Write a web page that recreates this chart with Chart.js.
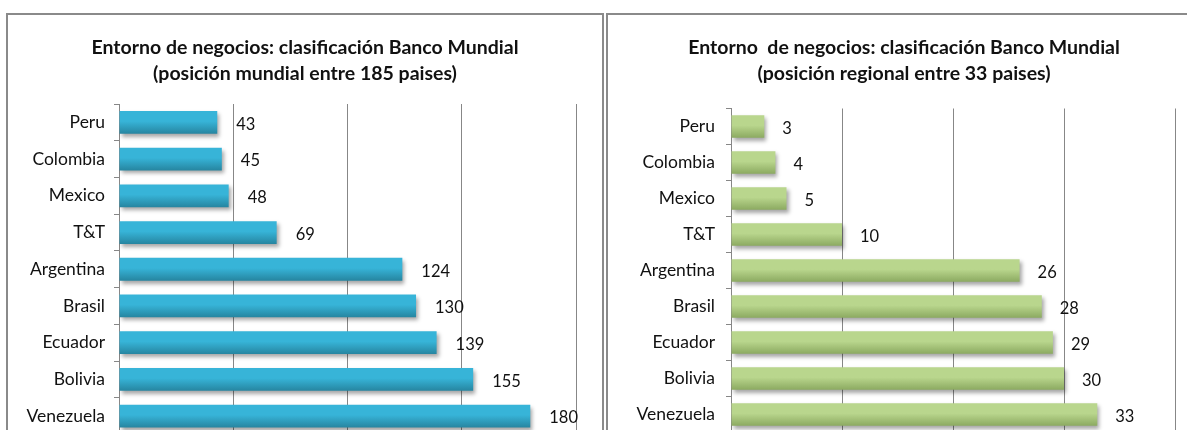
<!DOCTYPE html>
<html>
<head>
<meta charset="utf-8">
<script src="https://cdn.jsdelivr.net/npm/chart.js@4"></script>
<style>
  html, body { margin: 0; padding: 0; background: #fff; }
  body { width: 1187px; height: 430px; overflow: hidden; position: relative; }
  .panel { position: absolute; top: 13px; border: 2px solid #8a8a8a; height: 480px; }
  #p1 { left: 6px; width: 594px; }
  #p2 { left: 606px; width: 620px; }
  .wrap { position: absolute; top: 0; }
  #w1 { left: 0; width: 605px; height: 454px; }
  #w2 { left: 605px; width: 598px; height: 454px; }
</style>
</head>
<body>
<div class="panel" id="p1"></div>
<div class="panel" id="p2"></div>
<div class="wrap" id="w1"><canvas id="mundial"></canvas></div>
<div class="wrap" id="w2"><canvas id="regional"></canvas></div>
<script>
// datos
const paises = ['Peru', 'Colombia', 'Mexico', 'T&T', 'Argentina', 'Brasil', 'Ecuador', 'Bolivia', 'Venezuela'];
const posMundial = [43, 45, 48, 69, 124, 130, 139, 155, 180];
const posRegional = [3, 4, 5, 10, 26, 28, 29, 30, 33];
const tituloMundial = ['Entorno de negocios: clasificación Banco Mundial', '(posición mundial entre 185 paises)'];
const tituloRegional = ['Entorno  de negocios: clasificación Banco Mundial', '(posición regional entre 33 paises)'];
const ejeMundial = { max: 200, step: 50 };
const ejeRegional = { max: 40, step: 10 };

const FONT = 'Lato, "Open Sans", sans-serif';
const BAR_PCT = 0.62;

// degradado de cada barra
function gradiente(top, bottom) {
    return function (ctx) {
        const chart = ctx.chart;
        const y = chart.scales.y;
        if (!chart.chartArea || !y || ctx.dataIndex === undefined) return top;
        const c = y.getPixelForValue(ctx.dataIndex);
        const h = (y.height / chart.data.labels.length) * BAR_PCT;
        const g = chart.ctx.createLinearGradient(0, c - h / 2, 0, c + h / 2);
        g.addColorStop(0, top);
        g.addColorStop(0.45, top);
        g.addColorStop(1, bottom);
        return g;
    };
}

// sombra y etiquetas de valores
const sombra = {
    id: 'sombra',
    beforeDatasetsDraw(chart) {
        const ctx = chart.ctx;
        ctx.save();
        ctx.shadowColor = 'rgba(0,0,0,0.35)';
        ctx.shadowBlur = 4;
        ctx.shadowOffsetX = 2;
        ctx.shadowOffsetY = 3;
    },
    afterDatasetsDraw(chart, args, opts) {
        const ctx = chart.ctx;
        ctx.restore();
        ctx.save();
        ctx.font = '16.5px ' + FONT;
        ctx.fillStyle = '#111';
        ctx.textAlign = 'left';
        ctx.textBaseline = 'middle';
        const ds = chart.data.datasets[0];
        chart.getDatasetMeta(0).data.forEach((bar, i) => {
            ctx.fillText(String(ds.data[i]), bar.x + opts.offset, bar.y + 2);
        });
        ctx.restore();
    }
};

// titulo centrado en el recuadro (no en el area del grafico)
const titulo = {
    id: 'titulo',
    afterDraw(chart, args, opts) {
        const ctx = chart.ctx;
        ctx.save();
        ctx.font = 'bold 19.5px ' + FONT;
        ctx.fillStyle = '#111';
        ctx.textAlign = 'center';
        ctx.textBaseline = 'middle';
        opts.lineas.forEach((t, i) => ctx.fillText(t, opts.cx, opts.y + i * 26));
        ctx.restore();
    }
};

function crear(id, valores, lineas, eje, colTop, colBottom, cx, top, anchoEje, padDer, tickPad, offset) {
    return new Chart(document.getElementById(id), {
        type: 'bar',
        data: {
            labels: paises,
            datasets: [{
                data: valores,
                backgroundColor: gradiente(colTop, colBottom),
                borderWidth: 0,
                barPercentage: BAR_PCT,
                categoryPercentage: 1
            }]
        },
        plugins: [sombra, titulo],
        options: {
            indexAxis: 'y',
            responsive: true,
            maintainAspectRatio: false,
            animation: false,
            layout: { padding: { left: 0, right: padDer, top: top, bottom: 0 } },
            scales: {
                x: {
                    min: 0,
                    max: eje.max,
                    ticks: { display: false, stepSize: eje.step },
                    grid: { color: '#878787', lineWidth: 1, drawTicks: false },
                    border: { display: false }
                },
                y: {
                    afterFit(scale) { scale.width = anchoEje; },
                    ticks: { color: '#111', font: { family: FONT, size: 17.5 }, padding: tickPad },
                    grid: { drawOnChartArea: false, drawTicks: true, tickLength: 5, color: '#878787' },
                    border: { display: true, color: '#878787', width: 1 }
                }
            },
            plugins: {
                legend: { display: false },
                tooltip: { enabled: false },
                title: { display: false },
                sombra: { offset: offset },
                titulo: { lineas: lineas, cx: cx, y: 48 }
            }
        }
    });
}

crear('mundial', posMundial, tituloMundial, ejeMundial, '#37b4d8', '#2685a0', 305, 104, 119, 29, 9, 19);
crear('regional', posRegional, tituloRegional, ejeRegional, '#b9d68d', '#8caa61', 299, 108.5, 126, 28, 11, 18);
</script>
</body>
</html>
